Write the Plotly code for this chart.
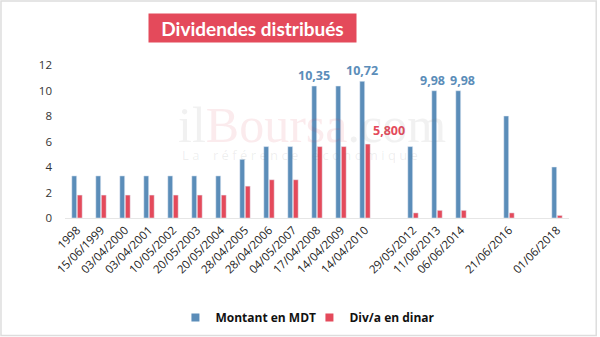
import plotly.graph_objects as go

categories = ["1998", "15/06/1999", "03/04/2000", "03/04/2001", "10/05/2002",
              "20/05/2003", "20/05/2004", "28/04/2005", "28/04/2006", "04/05/2007",
              "17/04/2008", "14/04/2009", "14/04/2010", " ", "29/05/2012",
              "11/06/2013", "06/06/2014", "  ", "21/06/2016", "   ", "01/06/2018"]
montant = [3.3, 3.3, 3.3, 3.3, 3.3, 3.3, 3.3, 4.6, 5.6, 5.6,
           10.35, 10.35, 10.72, None, 5.6, 9.98, 9.98, None, 8.0, None, 4.0]
div = [1.8, 1.8, 1.8, 1.8, 1.8, 1.8, 1.8, 2.5, 3.0, 3.0,
       5.6, 5.6, 5.8, None, 0.4, 0.6, 0.6, None, 0.4, None, 0.2]
y_ticks = [0, 2, 4, 6, 8, 10, 12]

blue_label_cats = ["17/04/2008", "14/04/2010", "11/06/2013", "06/06/2014"]
blue_label_vals = [10.35, 10.72, 9.98, 9.98]
blue_label_txt = ["10,35", "10,72", "9,98", "9,98"]
red_label_cats = ["14/04/2010"]
red_label_vals = [5.8]
red_label_txt = ["5,800"]

# label offsets (pixels) - styling
blue_xshift = [-3, -3, -5, 1]
red_xshift = [24]

BLUE = "#5b8db9"
RED = "#e44a5b"
FONT = "Open Sans"

fig = go.Figure()
fig.add_trace(go.Bar(x=categories, y=montant, name="Montant en MDT",
                     marker_color=BLUE, showlegend=False))
fig.add_trace(go.Bar(x=categories, y=div, name="Div/a en dinar",
                     marker_color=RED, showlegend=False))
# legend entries with small square symbols
fig.add_trace(go.Scatter(x=[None], y=[None], mode="markers", name="Montant en MDT",
                         marker=dict(symbol="square", size=8, color=BLUE)))
fig.add_trace(go.Scatter(x=[None], y=[None], mode="markers", name="Div/a en dinar",
                         marker=dict(symbol="square", size=8, color=RED)))

ann = []
for c, v, t, xs in zip(blue_label_cats, blue_label_vals, blue_label_txt, blue_xshift):
    ann.append(dict(x=c, y=v, text="<b>%s</b>" % t, showarrow=False, xref="x", yref="y",
                    xanchor="center", yanchor="middle",
                    xshift=xs, yshift=10.5, font=dict(family=FONT, size=12.5, color=BLUE)))
for c, v, t, xs in zip(red_label_cats, red_label_vals, red_label_txt, red_xshift):
    ann.append(dict(x=c, y=v, text="<b>%s</b>" % t, showarrow=False, xref="x", yref="y",
                    xanchor="center", yanchor="middle",
                    xshift=xs, yshift=14, font=dict(family=FONT, size=12.5, color=RED)))

# watermark
ann.append(dict(x=0.49, y=0.61, xref="paper", yref="paper", showarrow=False,
                xanchor="center", yanchor="middle",
                text="<span style='color:rgba(120,120,120,0.10)'>il</span>"
                     "<span style='color:rgba(220,60,80,0.10)'>Boursa</span>"
                     "<span style='color:rgba(120,120,120,0.10)'>.com</span>",
                font=dict(family="Liberation Serif", size=50)))
ann.append(dict(x=0.466, y=0.415, xref="paper", yref="paper", showarrow=False,
                xanchor="center", yanchor="middle",
                text="L a    r é f é r e n c e    é c o n o m i q u e",
                font=dict(family=FONT, size=13, color="rgba(120,120,120,0.13)")))

# title
ann.append(dict(x=0.372, y=1.245, xref="paper", yref="paper", showarrow=False,
                xanchor="center", yanchor="middle", width=203, height=24,
                text="<b>Dividendes distribués</b>", bgcolor=RED,
                borderpad=2, font=dict(family="Lato", size=19, color="white")))

fig.update_layout(
    width=600, height=337,
    margin=dict(l=65, r=31, t=65, b=119, autoexpand=False),
    paper_bgcolor="white", plot_bgcolor="white",
    barmode="group", bargap=0.54, bargroupgap=0.12,
    font=dict(family=FONT, size=11, color="#333"),
    showlegend=True,
    legend=dict(orientation="h", x=0.485, xanchor="center", y=-0.65, yanchor="middle",
                font=dict(family=FONT, size=12, color="#111", weight="bold"),
                itemwidth=30, entrywidth=89, entrywidthmode="pixels",
                traceorder="normal"),
    annotations=ann,
    shapes=[dict(type="rect", xref="paper", yref="paper",
                 x0=-0.127, x1=1.054, y0=-0.768, y1=1.4175,
                 line=dict(color="#dddddd", width=1.5), layer="below")],
)
fig.update_xaxes(type="category", tickangle=-45, showgrid=False, showline=True,
                 linecolor="#e6e6e6", linewidth=1, ticks="", automargin=False,
                 tickfont=dict(family=FONT, size=11.5, color="#222"))
fig.update_yaxes(range=[0, 12], tickvals=y_ticks, showgrid=False, zeroline=False,
                 showline=False, ticklabelstandoff=12, automargin=False,
                 tickfont=dict(family=FONT, size=11.5, color="#333"))

fig.write_html("out.html")
